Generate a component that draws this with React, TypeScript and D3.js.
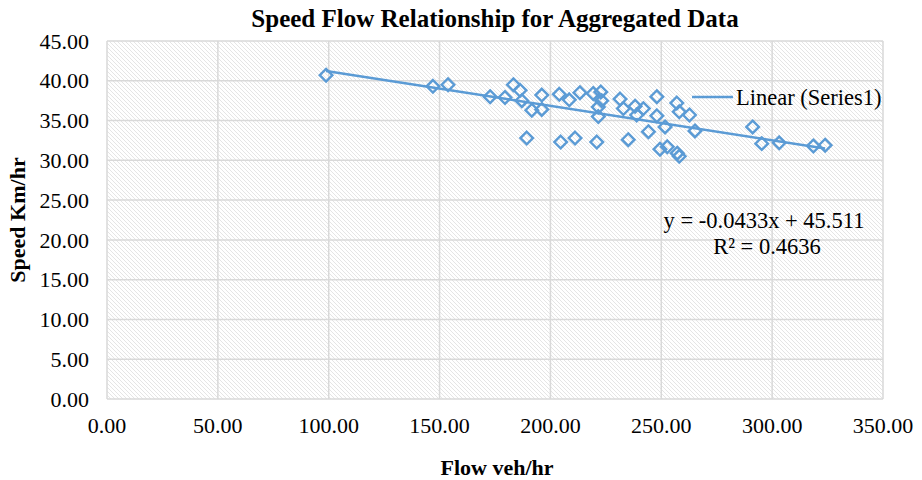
import React, { useEffect, useRef } from 'react';
import * as d3 from 'd3';

// flow (veh/hr) readings
const flowValues = [
  98.8, 147.0, 153.8, 172.8, 179.5, 183.3, 186.3, 187.1, 191.6, 196.1,
  196.1, 189.3, 204.0, 208.5, 213.3, 219.3, 222.7, 223.1, 221.6, 221.6,
  231.4, 232.9, 238.2, 241.9, 238.9, 248.0, 248.0, 251.7, 244.2, 235.1,
  220.9, 211.1, 204.6, 249.4, 252.7, 257.2, 258.1, 257.0, 258.1, 262.7,
  265.2, 291.2, 295.3, 303.2, 318.6, 323.9,
];
// speed (km/hr) readings
const speedValues = [
  40.7, 39.3, 39.5, 38.0, 37.9, 39.5, 38.8, 37.5, 36.3, 38.2,
  36.4, 32.8, 38.3, 37.6, 38.5, 38.4, 38.6, 37.5, 36.7, 35.5,
  37.7, 36.5, 36.8, 36.5, 35.7, 38.0, 35.6, 34.2, 33.6, 32.6,
  32.3, 32.8, 32.3, 31.4, 31.7, 30.9, 30.5, 37.2, 36.1, 35.7,
  33.7, 34.2, 32.1, 32.2, 31.8, 31.9,
];
const xTicks = [0, 50, 100, 150, 200, 250, 300, 350];
const yTicks = [0, 5, 10, 15, 20, 25, 30, 35, 40, 45];
const slope = -0.0433;
const intercept = 45.511;
const equationLabel = 'y = -0.0433x + 45.511';
const r2Label = 'R² = 0.4636';

const W = 922;
const H = 480;
const margin = { top: 41, right: 39, bottom: 81, left: 107 };
const blue = '#5b9bd5';
const font = '"Liberation Serif", "Times New Roman", serif';

export default function App() {
  const ref = useRef<SVGSVGElement>(null);

  useEffect(() => {
    if (!ref.current) return;
    const svg = d3.select(ref.current);
    svg.selectAll('*').remove();

    const x = d3.scaleLinear().domain([0, 350]).range([margin.left, W - margin.right]);
    const y = d3.scaleLinear().domain([0, 45]).range([H - margin.bottom, margin.top]);

    const defs = svg.append('defs');
    const pat = defs.append('pattern')
      .attr('id', 'hatch')
      .attr('patternUnits', 'userSpaceOnUse')
      .attr('width', 4)
      .attr('height', 4);
    pat.append('rect').attr('width', 4).attr('height', 4).attr('fill', '#fff');
    pat.append('path')
      .attr('d', 'M-1,-1 L5,5 M-1,3 L1,5 M3,-1 L5,1')
      .attr('stroke', '#e2e2e2')
      .attr('stroke-width', 0.9);

    // plot area
    svg.append('rect')
      .attr('x', x(0)).attr('y', y(45))
      .attr('width', x(350) - x(0)).attr('height', y(0) - y(45))
      .attr('fill', 'url(#hatch)');

    // gridlines
    svg.append('g').selectAll('line')
      .data(xTicks).join('line')
      .attr('x1', d => x(d)).attr('x2', d => x(d))
      .attr('y1', y(0)).attr('y2', y(45))
      .attr('stroke', '#d9d9d9').attr('stroke-width', 1.5);
    svg.append('g').selectAll('line')
      .data(yTicks).join('line')
      .attr('x1', x(0)).attr('x2', x(350))
      .attr('y1', d => y(d)).attr('y2', d => y(d))
      .attr('stroke', '#d9d9d9').attr('stroke-width', 1.5);

    // tick labels
    svg.append('g').selectAll('text')
      .data(yTicks).join('text')
      .attr('x', x(0) - 18).attr('y', d => y(d))
      .attr('dy', '0.35em')
      .attr('text-anchor', 'end')
      .style('font', `22px ${font}`)
      .text(d => d.toFixed(2));
    svg.append('g').selectAll('text')
      .data(xTicks).join('text')
      .attr('x', d => x(d)).attr('y', y(0) + 26)
      .attr('dy', '0.35em')
      .attr('text-anchor', 'middle')
      .style('font', `22px ${font}`)
      .text(d => d.toFixed(2));

    // trendline
    const [xMin, xMax] = d3.extent(flowValues) as [number, number];
    svg.append('line')
      .attr('x1', x(xMin)).attr('y1', y(slope * xMin + intercept))
      .attr('x2', x(xMax)).attr('y2', y(slope * xMax + intercept))
      .attr('stroke', blue).attr('stroke-width', 2.5);

    // markers
    const pts = flowValues.map((f, i) => [f, speedValues[i]]);
    const r = 6.3;
    svg.append('g').selectAll('path')
      .data(pts).join('path')
      .attr('d', d => {
        const cx = x(d[0]);
        const cy = y(d[1]);
        return `M${cx},${cy - r}L${cx + r},${cy}L${cx},${cy + r}L${cx - r},${cy}Z`;
      })
      .attr('fill', 'none')
      .attr('stroke', blue)
      .attr('stroke-width', 2.4);

    // legend
    svg.append('line')
      .attr('x1', 692).attr('x2', 733).attr('y1', 97).attr('y2', 97)
      .attr('stroke', blue).attr('stroke-width', 2.5);
    svg.append('text')
      .attr('x', 736).attr('y', 97).attr('dy', '0.35em')
      .style('font', `22.5px ${font}`)
      .text('Linear (Series1)');

    // equation
    svg.append('text')
      .attr('x', 764).attr('y', 220).attr('dy', '0.35em')
      .attr('text-anchor', 'middle')
      .style('font', `22.5px ${font}`)
      .text(equationLabel);
    svg.append('text')
      .attr('x', 767).attr('y', 246).attr('dy', '0.35em')
      .attr('text-anchor', 'middle')
      .style('font', `22.5px ${font}`)
      .text(r2Label);

    // titles
    svg.append('text')
      .attr('x', 495).attr('y', 18).attr('dy', '0.35em')
      .attr('text-anchor', 'middle')
      .style('font', `bold 25px ${font}`)
      .text('Speed Flow Relationship for Aggregated Data');
    svg.append('text')
      .attr('x', 497).attr('y', 467).attr('dy', '0.35em')
      .attr('text-anchor', 'middle')
      .style('font', `bold 22px ${font}`)
      .text('Flow veh/hr');
    svg.append('text')
      .attr('transform', `translate(17,${(y(0) + y(45)) / 2}) rotate(-90)`)
      .attr('dy', '0.35em')
      .attr('text-anchor', 'middle')
      .style('font', `bold 22px ${font}`)
      .text('Speed Km/hr');
  }, []);

  return (
    <svg
      ref={ref}
      width={W}
      height={H}
      style={{ position: 'absolute', left: 0, top: 0, background: '#fff' }}
    />
  );
}
